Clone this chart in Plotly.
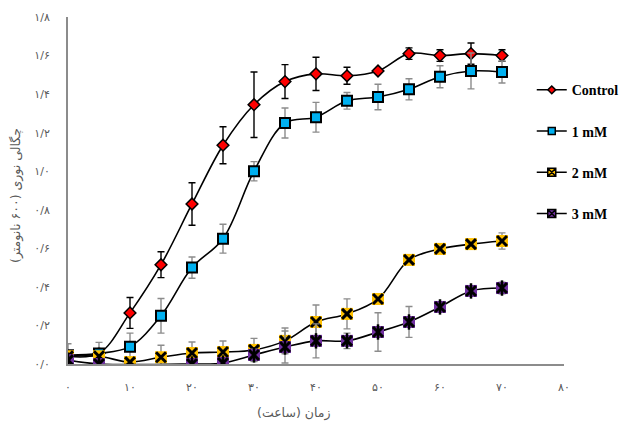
import plotly.graph_objects as go

# Sampling times (hours)
hours = [0, 5, 10, 15, 20, 25, 30, 35, 40, 45, 50, 55, 60, 65, 70]

# Optical density at 600 nm, mean values
control = [0.04, 0.055, 0.265, 0.515, 0.83, 1.135, 1.345, 1.465, 1.505, 1.495, 1.52, 1.61, 1.60, 1.61, 1.60]
mm1 = [0.045, 0.055, 0.09, 0.25, 0.50, 0.65, 1.00, 1.25, 1.28, 1.365, 1.385, 1.425, 1.49, 1.52, 1.515]
mm2 = [0.04, 0.04, 0.01, 0.035, 0.057, 0.062, 0.073, 0.12, 0.218, 0.26, 0.337, 0.54, 0.597, 0.622, 0.638]
mm3 = [0.02, 0.0, None, None, 0.0, 0.005, 0.047, 0.088, 0.12, 0.12, 0.166, 0.218, 0.296, 0.379, 0.394]

# Standard deviations
control_err = [0.02, 0.02, 0.08, 0.067, 0.11, 0.096, 0.17, 0.088, 0.086, 0.044, 0.01, 0.03, 0.03, 0.055, 0.03]
mm1_err = [0.06, 0.057, 0.07, 0.09, 0.055, 0.075, 0.05, 0.078, 0.077, 0.043, 0.066, 0.055, 0.057, 0.093, 0.057]
mm2_err = [0.01, 0.02, 0.01, 0.062, 0.057, 0.057, 0.06, 0.067, 0.088, 0.078, 0.01, 0.01, 0.01, 0.01, 0.042]
mm3_err = [0.01, 0.01, 0, 0, 0.01, 0.01, 0.03, 0.083, 0.088, 0.04, 0.1, 0.08, 0.01, 0.01, 0.03]

series_names = ["Control", "1 mM", "2 mM", "3 mM"]

# Axis ticks (Persian digits, "/" as decimal separator)
x_ticks = [0, 10, 20, 30, 40, 50, 60, 70, 80]
x_tick_text = ["۰", "۱۰", "۲۰", "۳۰", "۴۰", "۵۰", "۶۰", "۷۰", "۸۰"]
y_ticks = [0, 0.2, 0.4, 0.6, 0.8, 1.0, 1.2, 1.4, 1.6, 1.8]
y_tick_text = ["۰/۰", "۰/۲", "۰/۴", "۰/۶", "۰/۸", "۱/۰", "۱/۲", "۱/۴", "۱/۶", "۱/۸"]

x_title = "زمان (ساعت)"
y_title = "چگالی نوری (۶۰۰ نانومتر)"

GREY = "#8c8c8c"
LINE = dict(color="black", width=1.6, shape="spline")

fig = go.Figure()


def err(vals, color):
    return dict(type="data", array=vals, visible=True, color=color, thickness=1.4, width=3.5)


# Control: red diamonds
fig.add_trace(go.Scatter(
    x=hours, y=control, mode="lines+markers", line=LINE, showlegend=False,
    error_y=err(control_err, "black"),
    marker=dict(symbol="diamond", size=9, color="#ff0000", line=dict(color="black", width=1.5)),
))

# 1 mM: blue squares
fig.add_trace(go.Scatter(
    x=hours, y=mm1, mode="lines+markers", line=LINE, showlegend=False,
    error_y=err(mm1_err, GREY),
    marker=dict(symbol="square", size=10, color="#00b0f0", line=dict(color="black", width=2)),
))

# 2 mM: yellow squares with a black cross
fig.add_trace(go.Scatter(
    x=hours, y=mm2, mode="lines+markers", line=LINE, showlegend=False,
    error_y=err(mm2_err, GREY),
    marker=dict(symbol="square", size=12, color="#ffc000", line=dict(width=0)),
))
fig.add_trace(go.Scatter(
    x=hours, y=mm2, mode="markers", showlegend=False, hoverinfo="skip",
    marker=dict(symbol="x-thin", size=10, line=dict(color="black", width=3)),
))

# 3 mM: purple squares with a black star
fig.add_trace(go.Scatter(
    x=hours, y=mm3, mode="lines+markers", line=LINE, showlegend=False, connectgaps=True,
    error_y=err(mm3_err, GREY),
    marker=dict(symbol="square", size=12, color="#7030a0", line=dict(width=0)),
))
fig.add_trace(go.Scatter(
    x=hours, y=mm3, mode="markers", showlegend=False, hoverinfo="skip",
    marker=dict(symbol="x-thin", size=10, line=dict(color="black", width=3)),
))
fig.add_trace(go.Scatter(
    x=hours, y=mm3, mode="markers", showlegend=False, hoverinfo="skip",
    marker=dict(symbol="line-ns", size=11, line=dict(color="black", width=2.5)),
))

# Legend entries
legend_markers = [
    dict(symbol="diamond", size=6, color="#ff0000", line=dict(color="black", width=1.5)),
    dict(symbol="square", size=7, color="#00b0f0", line=dict(color="black", width=1.5)),
    dict(symbol="square-x", size=8, color="#ffc000", line=dict(color="black", width=1.5)),
    dict(symbol="square-x", size=8, color="#7030a0", line=dict(color="black", width=1.5)),
]
for i, (name, mk) in enumerate(zip(series_names, legend_markers)):
    fig.add_trace(go.Scatter(
        x=[None], y=[None], mode="lines+markers", name=name, legendgroup=f"g{i}",
        line=dict(color="black", width=1.5), marker=mk,
    ))

axis_font = dict(family="DejaVu Sans, Noto Sans, sans-serif", size=11, color="#595959")

fig.update_xaxes(
    range=[0, 80], tickvals=x_ticks, ticktext=x_tick_text, tickfont=axis_font,
    showline=True, linecolor=GREY, linewidth=2, showgrid=False, zeroline=False,
    ticks="", ticklabelstandoff=12,
)
fig.update_yaxes(
    range=[0, 1.8], tickvals=y_ticks, ticktext=y_tick_text, tickfont=axis_font,
    showline=True, linecolor=GREY, linewidth=2, showgrid=False, zeroline=False,
    ticks="", ticklabelstandoff=14,
)

title_font = dict(family="DejaVu Sans, Noto Sans, sans-serif", size=12.5, color="#595959")
fig.add_annotation(text=x_title, xref="paper", yref="paper", x=0.454, y=-0.14,
                   xanchor="center", yanchor="middle", showarrow=False, font=title_font)
fig.add_annotation(text=y_title, xref="paper", yref="paper", x=-0.105, y=0.487,
                   xanchor="center", yanchor="middle", showarrow=False, textangle=-90,
                   font=title_font)

fig.update_layout(
    width=619, height=426,
    margin=dict(l=68, r=55, t=17, b=62, autoexpand=False),
    paper_bgcolor="white", plot_bgcolor="white",
    legend=dict(
        x=0.935, y=0.835, xanchor="left", yanchor="top",
        font=dict(family="Liberation Serif", size=14, color="black", weight="bold"),
        tracegroupgap=20, bgcolor="rgba(0,0,0,0)", itemsizing="trace",
    ),
)

fig.write_html("out.html")
